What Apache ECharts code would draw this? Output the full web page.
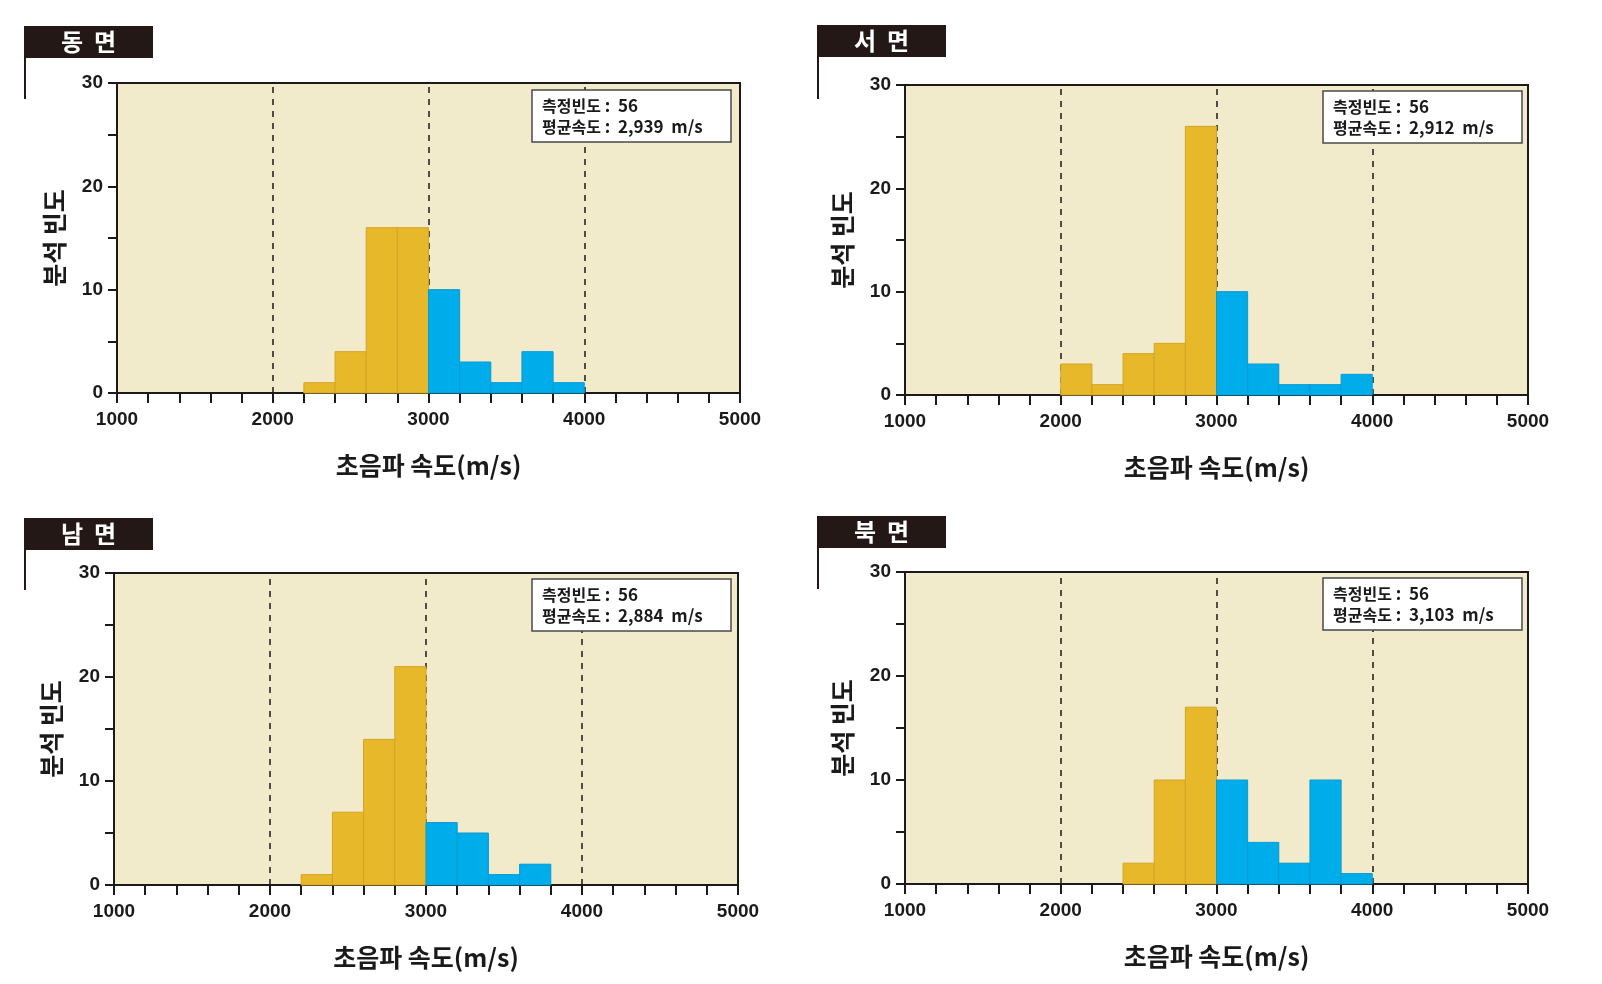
<!DOCTYPE html>
<html>
<head>
<meta charset="utf-8">
<script src="https://cdn.jsdelivr.net/npm/echarts@6/dist/echarts.min.js"></script>
<style>
html,body{margin:0;padding:0;background:#fff;}
#chart{width:1602px;height:984px;}
</style>
</head>
<body>
<div id="chart"></div>
<script>
// ---- data ----
const binStart = [2000, 2200, 2400, 2600, 2800, 3000, 3200, 3400, 3600, 3800];
const binWidth = 200;
const eastCounts  = [0, 1, 4, 16, 16, 10, 3, 1, 4, 1];
const westCounts  = [3, 1, 4, 5, 26, 10, 3, 1, 1, 2];
const southCounts = [0, 1, 7, 14, 21, 6, 5, 1, 2, 0];
const northCounts = [0, 0, 2, 10, 17, 10, 4, 2, 10, 1];
const panelTitles = ['동  면', '서  면', '남  면', '북  면'];
const sampleCounts = [56, 56, 56, 56];
const meanSpeeds = ['2,939', '2,912', '2,884', '3,103'];
const xMin = 1000, xMax = 5000, xStep = 1000;
const yMin = 0, yMax = 30, yStep = 10;
const refLines = [2000, 3000, 4000];
const splitValue = 3000;
const xName = '초음파 속도(m/s)';
const yName = '분석 빈도';

// ---- layout ----
const allCounts = [eastCounts, westCounts, southCounts, northCounts];
const grids = [
  {left: 117, top: 83, width: 623, height: 310},
  {left: 905, top: 85, width: 623, height: 310},
  {left: 114, top: 573, width: 624, height: 312},
  {left: 905, top: 572, width: 623, height: 312}
];
const titleBoxes = [
  {x: 24, y: 26, lineEnd: 99},
  {x: 817, y: 25, lineEnd: 99},
  {x: 24, y: 518, lineEnd: 590},
  {x: 817, y: 516, lineEnd: 589}
];
const infoBoxes = [
  {x: 532, y: 90},
  {x: 1323, y: 91},
  {x: 532, y: 579},
  {x: 1323, y: 578}
];

const GOLD = '#E8B82B', GOLD_EDGE = '#D2A424';
const BLUE = '#00ADEB', BLUE_EDGE = '#0799D2';
const NUMFONT = 'Liberation Sans';
const KFONT = 'Noto Sans CJK KR';
const NBSP = '\u00a0';

function renderBar(params, api) {
  const x0 = api.value(0), x1 = api.value(1), v = api.value(2);
  const p0 = api.coord([x0, 0]);
  const p1 = api.coord([x1, v]);
  const isLeft = x0 < splitValue;
  return {
    type: 'rect',
    shape: {x: p0[0], y: p1[1], width: p1[0] - p0[0], height: p0[1] - p1[1]},
    style: {fill: isLeft ? GOLD : BLUE, stroke: isLeft ? GOLD_EDGE : BLUE_EDGE, lineWidth: 1}
  };
}

const option = {
  backgroundColor: '#ffffff',
  animation: false,
  grid: grids.map(g => Object.assign({
    show: true, backgroundColor: '#F2EBCB', borderColor: '#1a1a1a', borderWidth: 2
  }, g)),
  xAxis: grids.map((g, i) => ({
    type: 'value', gridIndex: i, min: xMin, max: xMax, interval: xStep,
    name: xName, nameLocation: 'middle', nameGap: 60,
    nameTextStyle: {fontFamily: KFONT, fontWeight: 'bold', fontSize: 25, color: '#1a1a1a'},
    axisLine: {show: true, onZero: false, lineStyle: {color: '#1a1a1a', width: 2}},
    axisTick: {show: true, inside: false, length: 10, lineStyle: {color: '#1a1a1a', width: 2}},
    minorTick: {show: true, splitNumber: 5, length: 10, lineStyle: {color: '#1a1a1a', width: 2}},
    splitLine: {show: false},
    axisLabel: {fontFamily: NUMFONT, fontWeight: 'bold', fontSize: 19, color: '#1a1a1a', margin: 17,
      formatter: v => String(v)}
  })),
  yAxis: grids.map((g, i) => ({
    type: 'value', gridIndex: i, min: yMin, max: yMax, interval: yStep,
    name: yName, nameLocation: 'middle', nameGap: 50,
    nameTextStyle: {fontFamily: KFONT, fontWeight: 'bold', fontSize: 25, color: '#1a1a1a'},
    axisLine: {show: true, onZero: false, lineStyle: {color: '#1a1a1a', width: 2}},
    axisTick: {show: true, inside: false, length: 9, lineStyle: {color: '#1a1a1a', width: 2}},
    minorTick: {show: true, splitNumber: 2, length: 9, lineStyle: {color: '#1a1a1a', width: 2}},
    splitLine: {show: false},
    axisLabel: {fontFamily: NUMFONT, fontWeight: 'bold', fontSize: 19, color: '#1a1a1a', margin: 14,
      formatter: v => String(v)}
  })),
  series: allCounts.map((counts, i) => ({
    type: 'custom',
    xAxisIndex: i, yAxisIndex: i,
    renderItem: renderBar,
    encode: {x: [0, 1], y: 2},
    data: binStart.map((s, k) => [s, s + binWidth, counts[k]]).filter(d => d[2] > 0),
    z: 2,
    markLine: {
      silent: true, symbol: 'none', z: 1,
      label: {show: false},
      lineStyle: {color: '#1a1a1a', type: [6, 6], width: 1.5},
      data: refLines.map(v => ({xAxis: v}))
    }
  })),
  graphic: []
};

panelTitles.forEach((t, i) => {
  const b = titleBoxes[i];
  option.graphic.push({
    type: 'rect', shape: {x: b.x, y: b.y, width: 129, height: 32},
    style: {fill: '#231815'}
  });
  option.graphic.push({
    type: 'text', x: b.x + 64.5, y: b.y + 16,
    style: {text: t, fill: '#ffffff', font: 'bold 24px "Noto Sans CJK KR"', align: 'center', verticalAlign: 'middle'}
  });
  option.graphic.push({
    type: 'line', shape: {x1: b.x + 1, y1: b.y + 32, x2: b.x + 1, y2: b.lineEnd},
    style: {stroke: '#231815', lineWidth: 2}
  });
  const ib = infoBoxes[i];
  option.graphic.push({
    type: 'rect', shape: {x: ib.x, y: ib.y, width: 199, height: 52},
    style: {fill: '#ffffff', stroke: '#4a4a4a', lineWidth: 1.5}, z: 10
  });
  option.graphic.push({
    type: 'text', x: ib.x + 10, y: ib.y + 26, z: 11,
    style: {
      text: '{k|측정빈도}{n|' + NBSP + ':' + NBSP + NBSP + sampleCounts[i] + '}\n{k|평균속도}{n|' + NBSP + ':' + NBSP + NBSP + meanSpeeds[i] + NBSP + NBSP + 'm/s}',
      verticalAlign: 'middle',
      rich: {
        k: {fontFamily: KFONT, fontWeight: 'bold', fontSize: 16, fill: '#1a1a1a', lineHeight: 21},
        n: {fontFamily: KFONT, fontWeight: 'bold', fontSize: 17, fill: '#1a1a1a', lineHeight: 21}
      }
    }
  });
});

const chart = echarts.init(document.getElementById('chart'), null, {renderer: 'canvas'});
chart.setOption(option);
</script>
</body>
</html>
